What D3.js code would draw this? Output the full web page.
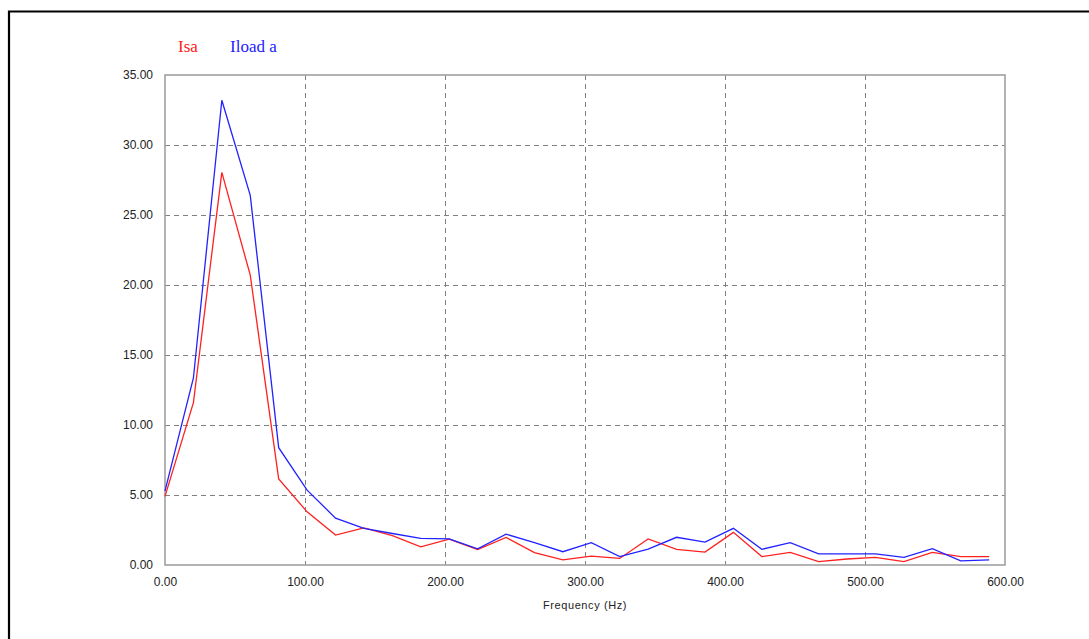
<!DOCTYPE html>
<html>
<head>
<meta charset="utf-8">
<script src="https://cdn.jsdelivr.net/npm/d3@7"></script>
<style>
    body { margin: 0; background: #fff; }
    #chart { position: relative; }
</style>
</head>
<body>
<div id="chart"></div>
<script>
// Data
const freqStep = 20.3;
const isaValues = [4.9, 11.6, 28.05, 20.7, 6.15, 3.8, 2.14, 2.65, 2.1, 1.3,
    1.85, 1.1, 1.97, 0.88, 0.36, 0.64, 0.47, 1.86, 1.12, 0.92,
    2.33, 0.6, 0.9, 0.24, 0.43, 0.55, 0.24, 0.9, 0.6, 0.6];
const iloadValues = [5.3, 13.36, 33.2, 26.4, 8.38, 5.35, 3.35, 2.62, 2.25, 1.9,
    1.86, 1.15, 2.2, 1.6, 0.95, 1.6, 0.6, 1.14, 1.98, 1.64,
    2.62, 1.12, 1.6, 0.79, 0.79, 0.79, 0.55, 1.17, 0.29, 0.36];
const xTicks = [0, 100, 200, 300, 400, 500, 600];
const yTicks = [0, 5, 10, 15, 20, 25, 30, 35];
const seriesNames = ['Isa', 'Iload a'];

async function draw() {
    const freqAccessor = (d, i) => i * freqStep;

    // Dimensions
    let dimensions = {
        width: 1089,
        height: 639,
        margin: {
            top: 75,
            bottom: 74,
            left: 165,
            right: 84,
        },
    };
    dimensions.ctrWidth = dimensions.width - dimensions.margin.left - dimensions.margin.right;
    dimensions.ctrHeight = dimensions.height - dimensions.margin.top - dimensions.margin.bottom;

    const svg = d3
        .select('#chart')
        .append('svg')
        .attr('width', dimensions.width)
        .attr('height', dimensions.height)
        ;

    // outer frame (only top and left edges visible)
    svg.append('path')
        .attr('d', `M9,${dimensions.height} V11.5 H${dimensions.width}`)
        .attr('fill', 'none')
        .attr('stroke', '#000')
        .attr('stroke-width', 2.2)
        ;

    const ctr = svg
        .append('g')
        .attr('transform', `translate(${dimensions.margin.left}, ${dimensions.margin.top})`)
        ;

    // Scales
    const xScale = d3.scaleLinear()
        .domain([0, 600])
        .range([0, dimensions.ctrWidth])
        ;
    const yScale = d3.scaleLinear()
        .domain([0, 35])
        .range([dimensions.ctrHeight, 0])
        ;

    // Grid
    const grid = ctr.append('g')
        .attr('stroke', '#808080')
        .attr('stroke-width', 1)
        .attr('stroke-dasharray', '5,4')
        ;
    grid.selectAll('.hgrid')
        .data(yTicks.filter(d => d > 0 && d < 35))
        .join('line')
        .attr('x1', 0)
        .attr('x2', dimensions.ctrWidth)
        .attr('y1', d => Math.round(yScale(d)) + 0.5)
        .attr('y2', d => Math.round(yScale(d)) + 0.5)
        ;
    grid.selectAll('.vgrid')
        .data(xTicks.filter(d => d > 0 && d < 600))
        .join('line')
        .attr('y1', 0)
        .attr('y2', dimensions.ctrHeight)
        .attr('x1', d => Math.round(xScale(d)) + 0.5)
        .attr('x2', d => Math.round(xScale(d)) + 0.5)
        ;

    // Plot border
    ctr.append('rect')
        .attr('x', 0)
        .attr('y', 0)
        .attr('width', dimensions.ctrWidth)
        .attr('height', dimensions.ctrHeight)
        .attr('fill', 'none')
        .attr('stroke', '#a0a0a0')
        .attr('stroke-width', 1.6)
        ;

    // Axes
    const xAxis = d3.axisBottom(xScale)
        .tickValues(xTicks)
        .tickSize(0)
        .tickPadding(12)
        .tickFormat(d3.format('.2f'))
        ;
    const yAxis = d3.axisLeft(yScale)
        .tickValues(yTicks)
        .tickSize(0)
        .tickPadding(12)
        .tickFormat(d3.format('.2f'))
        ;

    const xAxisGroup = ctr.append('g')
        .attr('transform', `translate(0, ${dimensions.ctrHeight})`)
        .call(xAxis)
        ;
    const yAxisGroup = ctr.append('g')
        .call(yAxis)
        ;
    [xAxisGroup, yAxisGroup].forEach(g => {
        g.select('.domain').remove();
        g.selectAll('text')
            .attr('fill', '#222')
            .style('font-family', 'Arial, "Liberation Sans", sans-serif')
            .style('font-size', '12px')
            ;
    });

    xAxisGroup.append('text')
        .attr('x', dimensions.ctrWidth / 2)
        .attr('y', 44)
        .attr('fill', '#222')
        .style('font-family', 'Arial, "Liberation Sans", sans-serif')
        .style('font-size', '11px')
        .style('letter-spacing', '0.6px')
        .style('text-anchor', 'middle')
        .text('Frequency (Hz)')
        ;

    // Lines
    const lineGen = d3.line()
        .x((d, i) => xScale(freqAccessor(d, i)))
        .y(d => yScale(d))
        ;
    const series = [
        { name: seriesNames[0], values: isaValues, color: '#ff2020' },
        { name: seriesNames[1], values: iloadValues, color: '#2222ff' },
    ];
    ctr.selectAll('.series')
        .data(series)
        .join('path')
        .attr('d', d => lineGen(d.values))
        .attr('fill', 'none')
        .attr('stroke', d => d.color)
        .attr('stroke-width', 1.3)
        ;

    // Legend
    const legendX = [178, 230];
    svg.selectAll('.legend')
        .data(series)
        .join('text')
        .attr('x', (d, i) => legendX[i])
        .attr('y', 52)
        .attr('fill', d => d.color)
        .style('font-family', '"Liberation Serif", "Times New Roman", serif')
        .style('font-size', '17px')
        .text(d => d.name)
        ;
}

draw();
</script>
</body>
</html>
